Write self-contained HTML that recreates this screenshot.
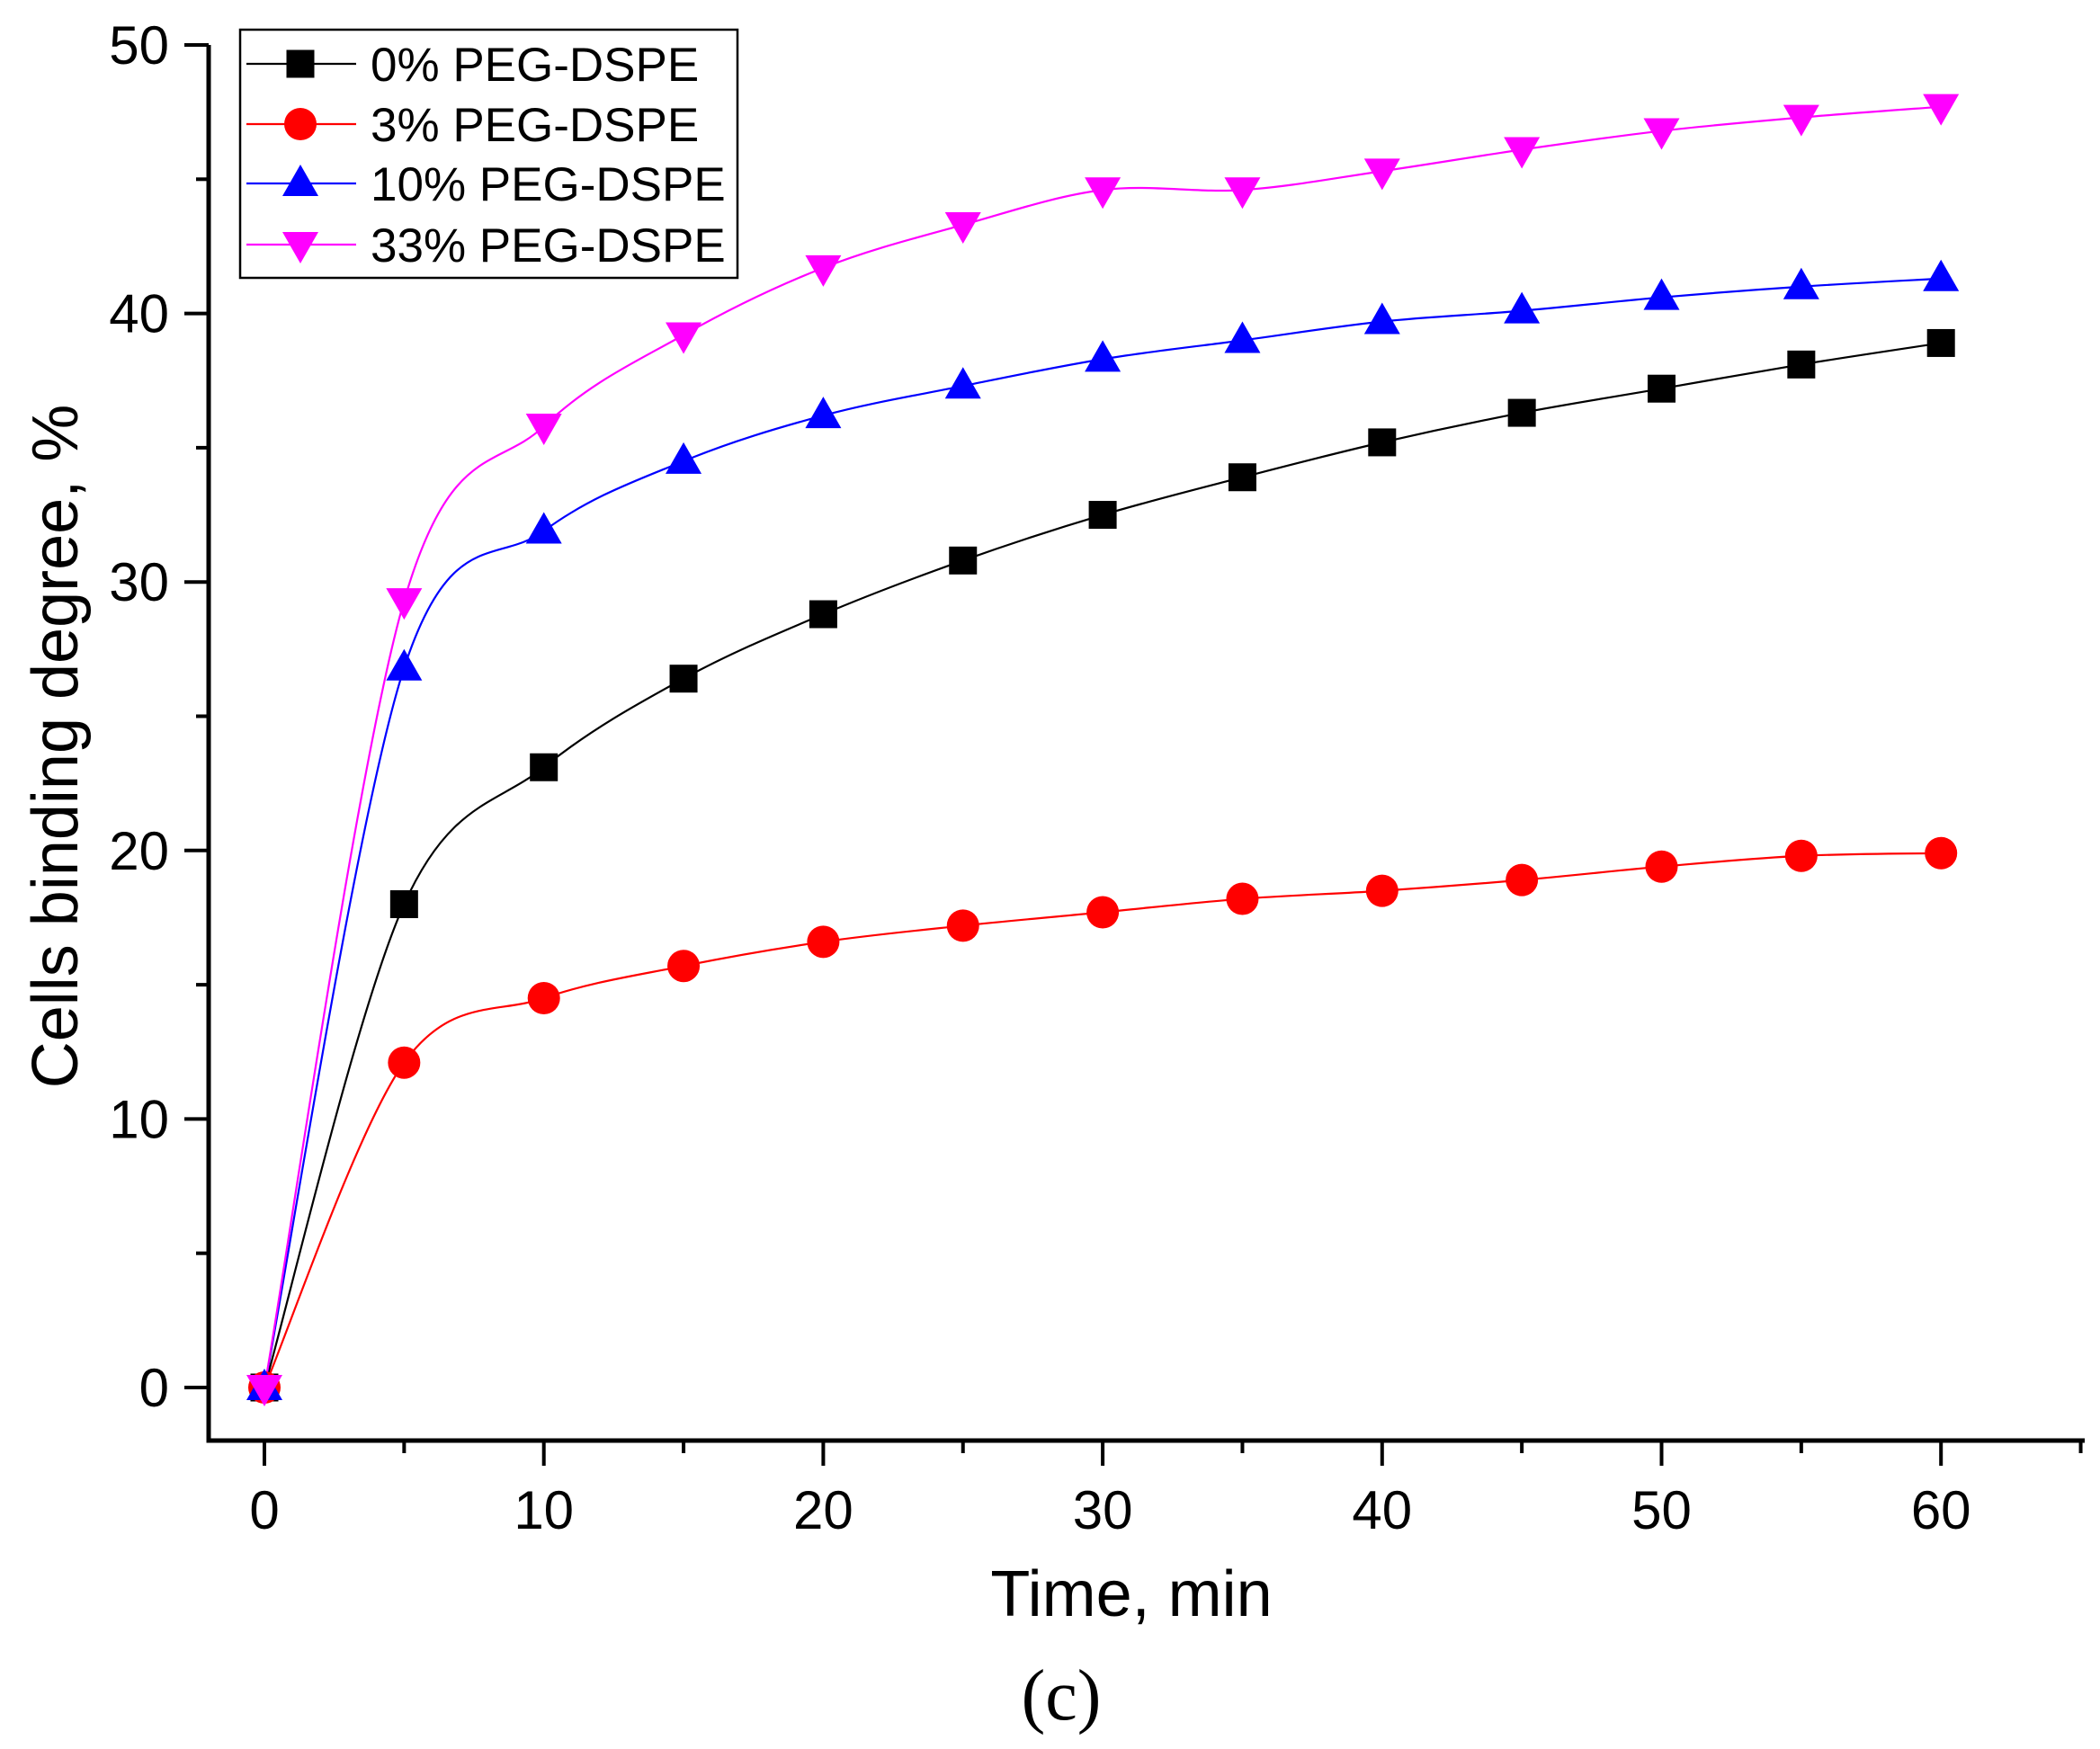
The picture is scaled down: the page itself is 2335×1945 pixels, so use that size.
<!DOCTYPE html>
<html><head><meta charset="utf-8"><style>body{margin:0;background:#fff}svg{display:block}</style></head>
<body>
<svg id="s" width="2335" height="1945" viewBox="0 0 2335 1945" xmlns="http://www.w3.org/2000/svg" font-family="Liberation Sans, sans-serif">
<rect width="2335" height="1945" fill="#fff"/>
<g id="axes" stroke="#000" stroke-width="5" fill="none">
<path d="M232,50 V1602 H2318"/>
</g>
<g id="ticks" stroke="#000" stroke-width="4"></g>
<g id="labels" font-size="60" fill="#000"></g>
<text x="1258" y="1797" font-size="72" text-anchor="middle">Time, min</text>
<text transform="translate(86,830) rotate(-90)" font-size="72" text-anchor="middle">Cells binding degree, %</text>
<text x="1180" y="1912" font-size="80" font-family="Liberation Serif, serif" text-anchor="middle">(c)</text>
<g id="series"></g>
<g id="legend">
<rect x="267" y="33" width="553" height="276" fill="#fff" stroke="#000" stroke-width="2.5"/>
</g>
</svg>
<script>
const NS="http://www.w3.org/2000/svg";
function el(t,a,p){const e=document.createElementNS(NS,t);for(const k in a)e.setAttribute(k,a[k]);p.appendChild(e);return e;}
const X=m=>294+m*31.07, Y=v=>1543-v*29.86;
const tk=document.getElementById('ticks'), lb=document.getElementById('labels');
for(let m=0;m<=65;m+=5){const x=X(m);el('line',{x1:x,y1:1602,x2:x,y2:m%10==0?1630:1616},tk);
 if(m%10==0&&m<=60){const t=el('text',{x:x,y:1700,'text-anchor':'middle'},lb);t.textContent=m;}}
for(let v=0;v<=50;v+=5){const y=Y(v);el('line',{x1:232,y1:y,x2:v%10==0?205:218,y2:y},tk);
 if(v%10==0){const t=el('text',{x:188,y:y+21,'text-anchor':'end'},lb);t.textContent=v;}}
const data=[
 ['#000','sq',[0,18.0,23.1,26.4,28.8,30.8,32.5,33.9,35.2,36.3,37.2,38.1,38.9],'0% PEG-DSPE'],
 ['#f00','ci',[0,12.1,14.5,15.7,16.6,17.2,17.7,18.2,18.5,18.9,19.4,19.8,19.9],'3% PEG-DSPE'],
 ['#00f','up',[0,26.8,31.9,34.5,36.2,37.3,38.3,39.0,39.7,40.1,40.6,41.0,41.3],'10% PEG-DSPE'],
 ['#f0f','dn',[0,29.3,35.8,39.2,41.7,43.3,44.6,44.6,45.3,46.1,46.8,47.3,47.7],'33% PEG-DSPE']];
function marker(type,x,y,c,p){
 if(type=='sq')el('rect',{x:x-15.5,y:y-15.5,width:31,height:31,fill:c},p);
 else if(type=='ci')el('ellipse',{cx:x,cy:y,rx:18,ry:18,fill:c},p);
 else if(type=='up')el('polygon',{points:`${x},${y-21} ${x+20},${y+14} ${x-20},${y+14}`,fill:c},p);
 else el('polygon',{points:`${x},${y+21} ${x+20},${y-14} ${x-20},${y-14}`,fill:c},p);
}
const sg=document.getElementById('series');
data.forEach(([c,t,v])=>{
 const P=v.map((d,i)=>[X(i*5),Y(d)]);
 let d=`M${P[0][0]},${P[0][1]}`;
 for(let i=0;i<P.length-1;i++){const p0=P[Math.max(i-1,0)],p1=P[i],p2=P[i+1],p3=P[Math.min(i+2,P.length-1)];
  d+=` C${p1[0]+(p2[0]-p0[0])/6},${p1[1]+(p2[1]-p0[1])/6} ${p2[0]-(p3[0]-p1[0])/6},${p2[1]-(p3[1]-p1[1])/6} ${p2[0]},${p2[1]}`;}
 el('path',{d:d,fill:'none',stroke:c,'stroke-width':2.2},sg);
});
data.forEach(([c,t,v])=>v.forEach((d,i)=>marker(t,X(i*5),Y(d),c,sg)));
const lg=document.getElementById('legend');
[71,138,204,272].forEach((y,i)=>{const [c,t,,name]=data[i];
 el('line',{x1:274,y1:y,x2:396,y2:y,stroke:c,'stroke-width':2.2},lg);marker(t,334,y,c,lg);
 const tx=el('text',{x:412,y:y+19,'font-size':53},lg);tx.textContent=name;});
</script>
</body></html>
